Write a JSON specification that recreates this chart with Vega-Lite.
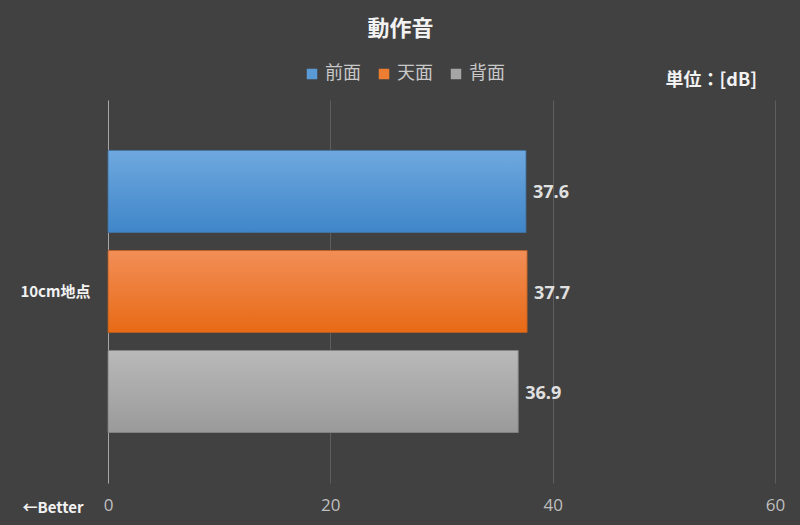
{
  "$schema": "https://vega.github.io/schema/vega-lite/v6.json",
  "autosize": "none",
  "width": 667,
  "height": 383,
  "padding": {"left": 108, "top": 100, "right": 25, "bottom": 42},
  "background": "#414141",
  "title": {
    "text": "動作音",
    "fontSize": 22,
    "fontWeight": "bold",
    "color": "#f2f2f2",
    "dx": -41,
    "offset": 24
  },
  "config": {
    "font": "Noto Sans CJK JP",
    "view": {"stroke": null},
    "axis": {"domain": false, "ticks": false}
  },
  "data": {
    "values": [
      {"pos": "10cm地点", "series": "前面", "value": 37.6},
      {"pos": "10cm地点", "series": "天面", "value": 37.7},
      {"pos": "10cm地点", "series": "背面", "value": 36.9}
    ]
  },
  "encoding": {
    "y": {
      "field": "pos",
      "type": "nominal",
      "scale": {"paddingInner": 0, "paddingOuter": 0.179},
      "axis": {
        "title": null,
        "domain": true,
        "domainColor": "#a6a6a6",
        "domainWidth": 1,
        "labelFontSize": 15,
        "labelFontWeight": "bold",
        "labelColor": "#f2f2f2",
        "labelPadding": 18
      }
    },
    "yOffset": {
      "field": "series",
      "type": "nominal",
      "sort": ["前面", "天面", "背面"],
      "scale": {"paddingInner": 0.18, "paddingOuter": 0}
    }
  },
  "layer": [
    {
      "mark": {"type": "bar"},
      "encoding": {
        "x": {
          "field": "value",
          "type": "quantitative",
          "scale": {"domain": [0, 60]},
          "axis": {
            "values": [0, 20, 40, 60],
            "title": "←Better",
            "titleFontSize": 15,
            "titleFontWeight": "bold",
            "titleColor": "#f2f2f2",
            "titleX": -86,
            "titleY": 24,
            "titleAlign": "left",
            "titleBaseline": "middle",
            "titleAngle": 0,
            "labelFontSize": 17,
            "labelColor": "#bfbfbf",
            "labelPadding": 14,
            "labelFlush": false,
            "grid": true,
            "gridColor": "#5e5e5e",
            "gridWidth": 1,
            "labelFont": "Open Sans"
          }
        },
        "color": {
          "field": "series",
          "type": "nominal",
          "sort": ["前面", "天面", "背面"],
          "scale": {"range": ["#5b9bd5", "#ed7d31", "#a5a5a5"]},
          "legend": {
            "title": null,
            "orient": "none",
            "direction": "horizontal",
            "legendX": 195,
            "legendY": -35,
            "symbolType": "square",
            "symbolSize": 110,
            "symbolStrokeWidth": 0,
            "labelFontSize": 18,
            "labelColor": "#c8c8c8",
            "columnPadding": 14,
            "labelOffset": 4
          }
        }
      }
    },
    {
      "transform": [{"filter": "datum.series === '前面'"}],
      "mark": {
        "type": "bar",
        "stroke": "#41719c",
        "strokeWidth": 0.8,
        "color": {
          "gradient": "linear", "x1": 0, "y1": 0, "x2": 0, "y2": 1,
          "stops": [{"offset": 0, "color": "#6fa8df"}, {"offset": 1, "color": "#3f86c9"}]
        }
      },
      "encoding": {"x": {"field": "value", "type": "quantitative", "axis": null}}
    },
    {
      "transform": [{"filter": "datum.series === '天面'"}],
      "mark": {
        "type": "bar",
        "stroke": "#ae5a21",
        "strokeWidth": 0.8,
        "color": {
          "gradient": "linear", "x1": 0, "y1": 0, "x2": 0, "y2": 1,
          "stops": [{"offset": 0, "color": "#f28e57"}, {"offset": 1, "color": "#e86a15"}]
        }
      },
      "encoding": {"x": {"field": "value", "type": "quantitative", "axis": null}}
    },
    {
      "transform": [{"filter": "datum.series === '背面'"}],
      "mark": {
        "type": "bar",
        "stroke": "#7f7f7f",
        "strokeWidth": 0.8,
        "color": {
          "gradient": "linear", "x1": 0, "y1": 0, "x2": 0, "y2": 1,
          "stops": [{"offset": 0, "color": "#b9b9b9"}, {"offset": 1, "color": "#9a9a9a"}]
        }
      },
      "encoding": {"x": {"field": "value", "type": "quantitative", "axis": null}}
    },
    {
      "mark": {
        "type": "text",
        "align": "left",
        "baseline": "middle",
        "dx": 7,
        "dy": 2,
        "fontSize": 18,
        "fontWeight": "bold",
        "font": "Open Sans",
        "color": "#e0e0e0"
      },
      "encoding": {
        "x": {
          "field": "value",
          "type": "quantitative",
          "axis": {
            "orient": "top",
            "labels": false,
            "grid": false,
            "title": "単位：[dB]",
            "titleFontSize": 18,
            "titleFontWeight": "bold",
            "titleColor": "#f2f2f2",
            "titleX": 557,
            "titleY": -20,
            "titleAlign": "left",
            "titleBaseline": "middle"
          }
        },
        "text": {"field": "value", "type": "quantitative", "format": ".1f"}
      }
    }
  ],
  "resolve": {"axis": {"x": "independent"}}
}
